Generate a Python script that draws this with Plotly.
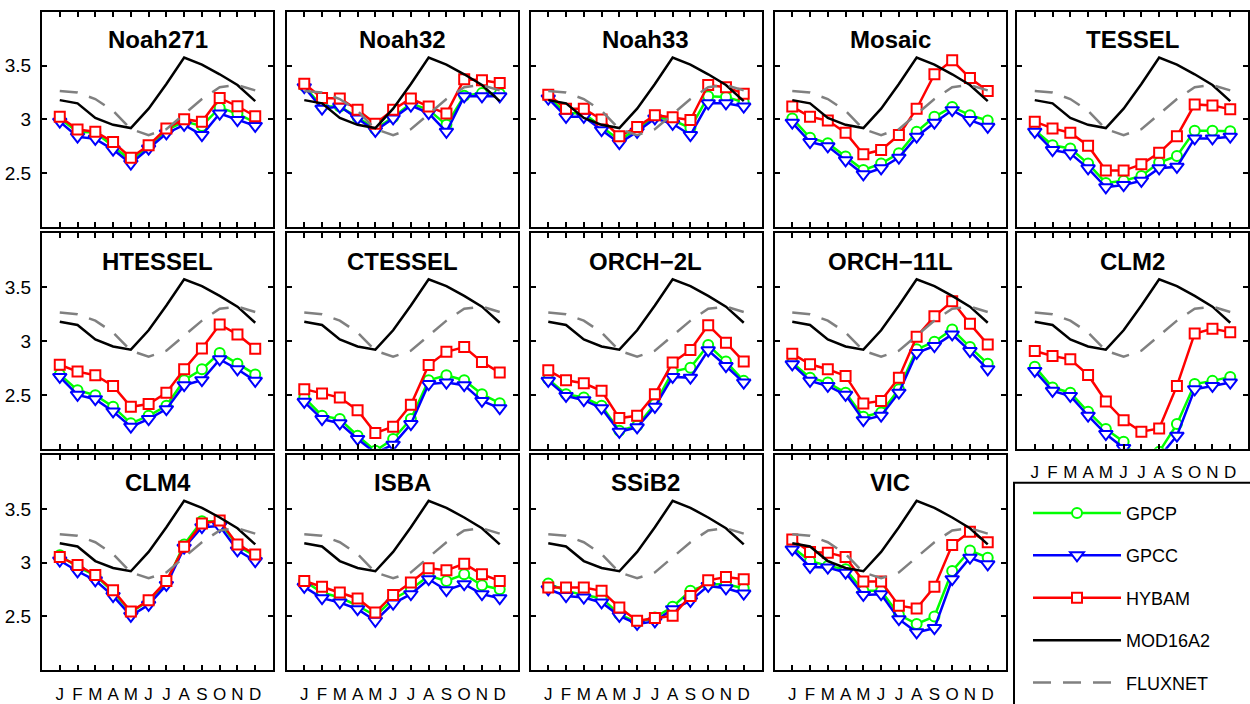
import plotly.graph_objects as go

W, H = 1250, 704

# ---------------- data ----------------
months = list(range(1, 13))
month_labels = ["J", "F", "M", "A", "M", "J", "J", "A", "S", "O", "N", "D"]
series_names = ["GPCP", "GPCC", "HYBAM", "MOD16A2", "FLUXNET"]
models = ["Noah271", "Noah32", "Noah33", "Mosaic", "TESSEL",
          "HTESSEL", "CTESSEL", "ORCH\u22122L", "ORCH\u221211L", "CLM2",
          "CLM4", "ISBA", "SSiB2", "VIC"]

mod16a2 = [3.18, 3.15, 3.015, 2.95, 2.92, 3.10, 3.33, 3.575, 3.51, 3.42, 3.32, 3.17]
fluxnet = [3.265, 3.25, 3.19, 3.08, 2.91, 2.855, 2.91, 3.05, 3.19, 3.30, 3.32, 3.27]

noah271_gpcp = [3.01, 2.885, 2.88, 2.75, 2.62, 2.75, 2.90, 2.98, 2.94, 3.11, 3.055, 2.97]
noah271_gpcc = [2.98, 2.84, 2.82, 2.72, 2.59, 2.73, 2.87, 2.95, 2.855, 3.055, 2.995, 2.94]
noah271_hybam = [3.025, 2.907, 2.886, 2.79, 2.645, 2.76, 2.917, 3.003, 2.978, 3.20, 3.123, 3.03]

noah32_gpcp = [3.31, 3.12, 3.12, 3.02, 2.91, 3.02, 3.15, 3.09, 2.95, 3.22, 3.245, 3.24]
noah32_gpcc = [3.30, 3.10, 3.12, 3.01, 2.895, 3.01, 3.13, 3.06, 2.886, 3.215, 3.215, 3.215]
noah32_hybam = [3.333, 3.20, 3.195, 3.09, 2.96, 3.09, 3.195, 3.12, 3.055, 3.375, 3.365, 3.34]

noah33_gpcp = [3.21, 3.06, 3.055, 2.93, 2.81, 2.91, 3.025, 2.995, 2.92, 3.215, 3.21, 3.16]
noah33_gpcc = [3.195, 3.025, 3.025, 2.90, 2.78, 2.886, 3.01, 2.96, 2.855, 3.15, 3.15, 3.12]
noah33_hybam = [3.23, 3.10, 3.10, 3.00, 2.845, 2.93, 3.04, 3.02, 2.995, 3.32, 3.30, 3.24]

mosaic_gpcp = [3.01, 2.83, 2.78, 2.655, 2.53, 2.59, 2.685, 2.886, 3.025, 3.117, 3.04, 2.99]
mosaic_gpcc = [2.97, 2.79, 2.75, 2.62, 2.49, 2.546, 2.645, 2.84, 2.97, 3.086, 2.994, 2.932]
mosaic_hybam = [3.12, 3.025, 2.99, 2.877, 2.676, 2.716, 2.855, 3.10, 3.42, 3.55, 3.386, 3.265]

tessel_gpcp = [2.90, 2.76, 2.73, 2.59, 2.41, 2.43, 2.475, 2.60, 2.66, 2.895, 2.895, 2.89]
tessel_gpcc = [2.886, 2.716, 2.685, 2.546, 2.37, 2.39, 2.43, 2.546, 2.56, 2.824, 2.824, 2.84]
tessel_hybam = [2.98, 2.917, 2.877, 2.756, 2.525, 2.525, 2.583, 2.69, 2.845, 3.14, 3.13, 3.096]

htessel_gpcp = [2.69, 2.543, 2.497, 2.39, 2.235, 2.305, 2.398, 2.636, 2.738, 2.89, 2.79, 2.69]
htessel_gpcc = [2.667, 2.50, 2.46, 2.346, 2.204, 2.275, 2.367, 2.59, 2.636, 2.83, 2.738, 2.63]
htessel_hybam = [2.78, 2.716, 2.682, 2.583, 2.389, 2.414, 2.52, 2.738, 2.932, 3.154, 3.062, 2.929]

ctessel_gpcp = [2.475, 2.306, 2.275, 2.12, 1.98, 2.09, 2.275, 2.636, 2.682, 2.636, 2.506, 2.423]
ctessel_gpcc = [2.435, 2.275, 2.235, 2.09, 1.96, 2.037, 2.228, 2.60, 2.614, 2.59, 2.444, 2.376]
ctessel_hybam = [2.553, 2.512, 2.475, 2.358, 2.145, 2.204, 2.407, 2.778, 2.90, 2.944, 2.806, 2.707]

orch2l_gpcp = [2.645, 2.506, 2.475, 2.398, 2.167, 2.213, 2.414, 2.716, 2.753, 2.963, 2.809, 2.63]
orch2l_gpcc = [2.63, 2.49, 2.45, 2.376, 2.157, 2.198, 2.389, 2.667, 2.66, 2.914, 2.768, 2.614]
orch2l_hybam = [2.728, 2.636, 2.608, 2.537, 2.284, 2.306, 2.506, 2.80, 2.917, 3.148, 2.985, 2.809]

orch11l_gpcp = [2.80, 2.66, 2.614, 2.52, 2.296, 2.336, 2.552, 2.923, 2.994, 3.108, 2.944, 2.79]
orch11l_gpcc = [2.784, 2.63, 2.583, 2.50, 2.265, 2.306, 2.52, 2.89, 2.954, 3.062, 2.907, 2.738]
orch11l_hybam = [2.883, 2.784, 2.738, 2.676, 2.42, 2.444, 2.66, 3.04, 3.23, 3.37, 3.16, 2.969]

clm2_gpcp = [2.762, 2.568, 2.52, 2.343, 2.182, 2.065, 1.86, 1.97, 2.228, 2.60, 2.63, 2.667]
clm2_gpcc = [2.722, 2.537, 2.49, 2.306, 2.136, 2.006, 1.80, 1.92, 2.12, 2.552, 2.583, 2.614]
clm2_hybam = [2.907, 2.861, 2.83, 2.685, 2.438, 2.265, 2.157, 2.188, 2.583, 3.071, 3.114, 3.083]

clm4_gpcp = [3.068, 2.96, 2.883, 2.73, 2.537, 2.645, 2.815, 3.17, 3.386, 3.38, 3.154, 3.062]
clm4_gpcc = [3.02, 2.92, 2.836, 2.69, 2.506, 2.608, 2.793, 3.139, 3.33, 3.34, 3.114, 3.015]
clm4_hybam = [3.052, 2.978, 2.886, 2.744, 2.546, 2.651, 2.83, 3.148, 3.364, 3.392, 3.17, 3.077]

isba_gpcp = [2.83, 2.722, 2.676, 2.60, 2.506, 2.66, 2.753, 2.877, 2.83, 2.892, 2.79, 2.753]
isba_gpcc = [2.775, 2.67, 2.63, 2.568, 2.46, 2.62, 2.707, 2.846, 2.744, 2.80, 2.707, 2.67]
isba_hybam = [2.83, 2.775, 2.722, 2.667, 2.537, 2.70, 2.815, 2.948, 2.929, 2.99, 2.892, 2.83]

ssib2_gpcp = [2.806, 2.738, 2.70, 2.67, 2.52, 2.444, 2.49, 2.59, 2.738, 2.80, 2.80, 2.762]
ssib2_gpcc = [2.753, 2.69, 2.676, 2.63, 2.506, 2.43, 2.454, 2.568, 2.645, 2.784, 2.762, 2.713]
ssib2_hybam = [2.768, 2.768, 2.768, 2.738, 2.583, 2.46, 2.485, 2.506, 2.69, 2.836, 2.867, 2.846]

vic_gpcp = [3.145, 3.015, 2.97, 2.938, 2.738, 2.738, 2.515, 2.43, 2.50, 2.923, 3.114, 3.046]
vic_gpcc = [3.123, 2.96, 2.954, 2.907, 2.70, 2.707, 2.475, 2.352, 2.392, 2.846, 3.046, 2.985]
vic_hybam = [3.216, 3.10, 3.093, 3.052, 2.824, 2.824, 2.60, 2.574, 2.775, 3.164, 3.287, 3.19]

y_tickvals = [2.5, 3, 3.5]
y_ticktext = ["2.5", "3", "3.5"]

gpcp_all = [noah271_gpcp, noah32_gpcp, noah33_gpcp, mosaic_gpcp, tessel_gpcp,
            htessel_gpcp, ctessel_gpcp, orch2l_gpcp, orch11l_gpcp, clm2_gpcp,
            clm4_gpcp, isba_gpcp, ssib2_gpcp, vic_gpcp]
gpcc_all = [noah271_gpcc, noah32_gpcc, noah33_gpcc, mosaic_gpcc, tessel_gpcc,
            htessel_gpcc, ctessel_gpcc, orch2l_gpcc, orch11l_gpcc, clm2_gpcc,
            clm4_gpcc, isba_gpcc, ssib2_gpcc, vic_gpcc]
hybam_all = [noah271_hybam, noah32_hybam, noah33_hybam, mosaic_hybam, tessel_hybam,
             htessel_hybam, ctessel_hybam, orch2l_hybam, orch11l_hybam, clm2_hybam,
             clm4_hybam, isba_hybam, ssib2_hybam, vic_hybam]

# ---------------- layout geometry (pixels) ----------------
col_left = [42, 286.5, 530.5, 774.5, 1017]
panel_w = 231
row_top = [12, 235.5, 459]
panel_h = 217

FONT = "Liberation Sans, Arial, Helvetica, sans-serif"
GREEN, BLUE, RED, GRAY = "#00FF00", "#0000FF", "#FF0000", "#808080"

fig = go.Figure()
layout = dict(
    width=W, height=H, margin=dict(l=0, r=0, t=0, b=0),
    paper_bgcolor="white", plot_bgcolor="white",
    font=dict(family=FONT, size=17, color="black"),
    showlegend=True,
)
annotations = []

for k, name in enumerate(models):
    r, c = divmod(k, 5)
    ax = "" if k == 0 else str(k + 1)
    x0 = col_left[c] / W
    x1 = (col_left[c] + panel_w) / W
    y1 = 1 - row_top[r] / H
    y0 = 1 - (row_top[r] + panel_h) / H
    show_x = (r == 2) or (r == 1 and c == 4)
    show_y = (c == 0)
    layout["xaxis" + ax] = dict(
        domain=[x0, x1], range=[0, 13], anchor="y" + ax,
        tickvals=months, ticktext=month_labels, showticklabels=show_x,
        tickangle=0, ticks="inside", ticklen=5, tickwidth=1.5, tickcolor="black",
        showline=True, linecolor="black", linewidth=2, mirror="ticks",
        showgrid=False, zeroline=False, fixedrange=True,
        tickfont=dict(size=17, family=FONT), ticklabelstandoff=7,
    )
    layout["yaxis" + ax] = dict(
        domain=[y0, y1], range=[2, 4], anchor="x" + ax,
        tickvals=y_tickvals, ticktext=y_ticktext, showticklabels=show_y,
        ticks="inside", ticklen=5, tickwidth=1.5, tickcolor="black",
        showline=True, linecolor="black", linewidth=2, mirror="ticks",
        showgrid=False, zeroline=False, fixedrange=True,
        tickfont=dict(size=19, family=FONT), ticklabelstandoff=5,
    )
    annotations.append(dict(
        text="<b>%s</b>" % name, xref="paper", yref="paper",
        x=(x0 + x1) / 2, y=1 - (row_top[r] + 28) / H,
        xanchor="center", yanchor="middle", showarrow=False,
        font=dict(size=24, family=FONT, color="black"),
    ))

    common = dict(x=months, xaxis="x" + ax, yaxis="y" + ax)
    leg = (k == 0)
    fig.add_trace(go.Scatter(
        y=gpcp_all[k], name="GPCP", mode="lines+markers", showlegend=leg,
        legendgroup="g1", line=dict(color=GREEN, width=2.5),
        marker=dict(symbol="circle", size=10, color="white", line=dict(color=GREEN, width=2)),
        **common))
    fig.add_trace(go.Scatter(
        y=gpcc_all[k], name="GPCC", mode="lines+markers", showlegend=leg,
        legendgroup="g2", line=dict(color=BLUE, width=2.5),
        marker=dict(symbol="triangle-down", size=12, color="white", line=dict(color=BLUE, width=2)),
        **common))
    fig.add_trace(go.Scatter(
        y=hybam_all[k], name="HYBAM", mode="lines+markers", showlegend=leg,
        legendgroup="g3", line=dict(color=RED, width=2.5),
        marker=dict(symbol="square", size=10, color="white", line=dict(color=RED, width=2)),
        **common))
    fig.add_trace(go.Scatter(
        y=mod16a2, name="MOD16A2", mode="lines", showlegend=leg,
        legendgroup="g4", line=dict(color="black", width=2.5), **common))
    fig.add_trace(go.Scatter(
        y=fluxnet, name="FLUXNET", mode="lines", showlegend=leg,
        legendgroup="g5", line=dict(color=GRAY, width=2.5, dash="18px,12px"), **common))

layout["annotations"] = annotations
layout["legend"] = dict(
    x=1028 / W, y=1 - 499 / H, xanchor="left", yanchor="top",
    bgcolor="rgba(0,0,0,0)", borderwidth=0,
    font=dict(size=18, family=FONT, color="black"),
    itemwidth=88, tracegroupgap=16, traceorder="grouped",
)
layout["shapes"] = [dict(
    type="rect", xref="paper", yref="paper",
    x0=1014 / W, x1=1262 / W, y0=1 - 720 / H, y1=1 - 487 / H,
    line=dict(color="black", width=2), fillcolor="rgba(0,0,0,0)",
)]
fig.update_layout(**layout)
fig.write_html("out.html", config={"displayModeBar": False},
               post_script="document.body.style.margin='0';document.body.style.overflow='hidden';")
